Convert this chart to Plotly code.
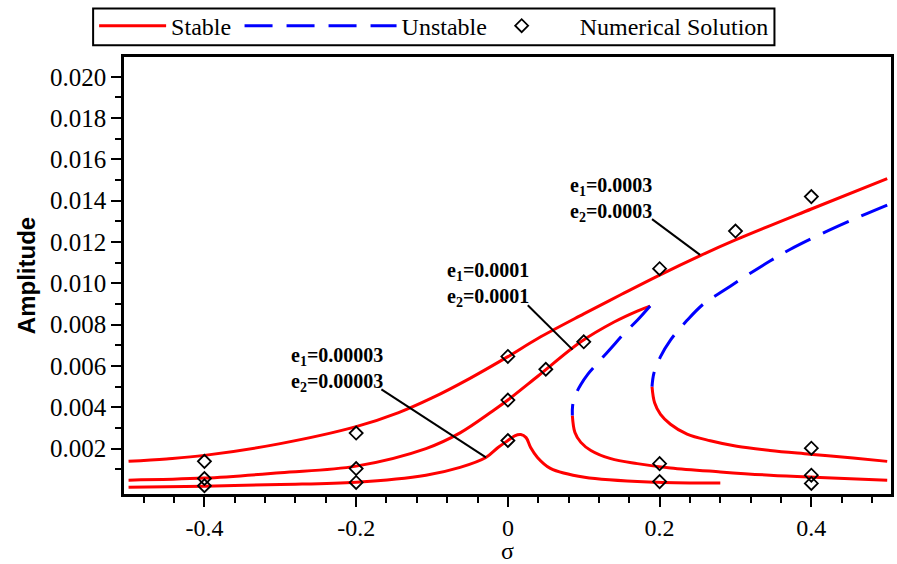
import plotly.graph_objects as go

# ---- frequency-response branches (sigma, amplitude) ----
# e1 = e2 = 0.00003 : single stable branch with a small peak
sig_s1 = [-0.5, -0.4, -0.3, -0.2, -0.108, -0.063, -0.029, -0.013, 0.0, 0.009, 0.017, 0.024, 0.030, 0.039, 0.056, 0.101, 0.197, 0.28]
amp_s1 = [0.00013, 0.00018, 0.00026, 0.00037, 0.00071, 0.00109, 0.00157, 0.00205, 0.00239, 0.00262, 0.00268, 0.00253, 0.00205, 0.00157, 0.00104, 0.00061, 0.00037, 0.00033]

# e1 = e2 = 0.0001
sig_u2 = [-0.5, -0.4, -0.3, -0.2, -0.108, -0.063, -0.02, 0.0, 0.0394, 0.0962, 0.140, 0.1706, 0.1875]
amp_u2 = [0.00047, 0.00057, 0.00083, 0.00115, 0.0020, 0.00276, 0.00382, 0.00435, 0.0055, 0.00717, 0.00813, 0.00866, 0.0089]
sig_d2 = [0.1875, 0.1706, 0.1531, 0.1356, 0.1181, 0.1050, 0.0962, 0.0884, 0.0853, 0.0850]
amp_d2 = [0.0089, 0.00821, 0.00757, 0.00685, 0.00613, 0.00558, 0.00510, 0.00454, 0.00406, 0.00360]
sig_l2 = [0.0850, 0.0884, 0.0962, 0.1094, 0.1356, 0.1706, 0.2143, 0.2800, 0.3456, 0.4112, 0.5]
amp_l2 = [0.00360, 0.00278, 0.00230, 0.00191, 0.00151, 0.00127, 0.00106, 0.00087, 0.00071, 0.00060, 0.00047]

# e1 = e2 = 0.0003
sig_u3 = [-0.5, -0.45, -0.4, -0.3, -0.2, -0.144, -0.1, -0.05, 0.0, 0.0394, 0.1, 0.15, 0.2, 0.253, 0.3, 0.4, 0.5]
amp_u3 = [0.00138, 0.0015, 0.00167, 0.00224, 0.00306, 0.00374, 0.00445, 0.0054, 0.00645, 0.00733, 0.00852, 0.00947, 0.0104, 0.01133, 0.0121, 0.0136, 0.01507]
sig_d3 = [0.5, 0.4593, 0.4112, 0.3718, 0.3455, 0.3106, 0.2844, 0.2581, 0.2362, 0.2143, 0.2012, 0.1925, 0.1900]
amp_d3 = [0.01379, 0.01316, 0.01236, 0.01164, 0.01108, 0.01028, 0.00965, 0.00901, 0.00821, 0.00725, 0.00645, 0.00565, 0.00500]
sig_l3 = [0.1900, 0.1934, 0.2012, 0.2143, 0.2362, 0.2668, 0.3018, 0.3455, 0.3980, 0.4550, 0.5]
amp_l3 = [0.00500, 0.00422, 0.00366, 0.00318, 0.00270, 0.00238, 0.00211, 0.00191, 0.00173, 0.00154, 0.00138]

# ---- numerical solution points ----
sig_num = [-0.4, -0.2, 0.0, 0.2, 0.3, 0.4, 0.4,
           -0.4, -0.2, 0.0, 0.05, 0.1, 0.2, 0.4,
           -0.4, -0.2, 0.0, 0.2, 0.4]
amp_num = [0.00138, 0.00275, 0.00646, 0.01071, 0.01253, 0.0142, 0.00202,
           0.00055, 0.00103, 0.00435, 0.00584, 0.00717, 0.00127, 0.00071,
           0.0002, 0.00036, 0.00239, 0.0004, 0.00031]

# ---- curve labels and their leader lines ----
label_text = ["<b>e<sub>1</sub>=0.00003</b><br><b>e<sub>2</sub>=0.00003</b>",
              "<b>e<sub>1</sub>=0.0001</b><br><b>e<sub>2</sub>=0.0001</b>",
              "<b>e<sub>1</sub>=0.0003</b><br><b>e<sub>2</sub>=0.0003</b>"]
label_x = [-0.2887, -0.0827, 0.0787]
label_y = [0.00583, 0.00995, 0.01406]
leader_x0 = [-0.1667, 0.0262, 0.190]
leader_y0 = [0.00487, 0.00894, 0.01311]
leader_x1 = [-0.0289, 0.0853, 0.2533]
leader_y1 = [0.00157, 0.00679, 0.01138]

x_major = [-0.4, -0.2, 0.0, 0.2, 0.4]
x_labels = ["-0.4", "-0.2", "0", "0.2", "0.4"]
x_minor = [round(-0.48 + 0.04 * i, 2) for i in range(25)]
x_minor = [v for v in x_minor if all(abs(v - m) > 1e-9 for m in x_major)]
y_major = [round(0.002 * i, 3) for i in range(1, 11)]
y_labels = ["%.3f" % v for v in y_major]
y_minor = [round(0.001 + 0.002 * i, 3) for i in range(10)]

RED = "#ff0000"
BLUE = "#0000ff"
SERIF = "Liberation Serif, Times New Roman, serif"

# plot area in pixels, used to place the legend row above the frame
W, H = 897, 564
ML, MR, MT, MB = 124, 3, 57, 65
PW, PH = W - ML - MR, H - MT - MB


def px_to_paper_x(px):
    return (px - ML) / PW


def px_to_paper_y(py):
    return 1 + (MT - py) / PH


fig = go.Figure()

stable = [(sig_s1, amp_s1), (sig_u2, amp_u2), (sig_l2, amp_l2), (sig_u3, amp_u3), (sig_l3, amp_l3)]
for i, (xs, ys) in enumerate(stable):
    fig.add_trace(go.Scatter(
        x=xs, y=ys, mode="lines", name="Stable", legendgroup="stable", legend="legend",
        showlegend=(i == 0), line=dict(color=RED, width=3, shape="spline", smoothing=1.0)))

unstable = [(sig_d2, amp_d2), (sig_d3, amp_d3)]
for i, (xs, ys) in enumerate(unstable):
    fig.add_trace(go.Scatter(
        x=xs, y=ys, mode="lines", name="Unstable", legendgroup="unstable", legend="legend2",
        showlegend=(i == 0),
        line=dict(color=BLUE, width=3, dash="28px,14px", shape="spline", smoothing=1.0)))

fig.add_trace(go.Scatter(
    x=sig_num, y=amp_num, mode="markers", name="Numerical Solution", legend="legend3",
    marker=dict(symbol="diamond-open", size=10, color="black", line=dict(width=1.8, color="black"))))

for t, x, y in zip(label_text, label_x, label_y):
    fig.add_annotation(x=x, y=y, xref="x", yref="y", text=t, showarrow=False,
                       xanchor="left", yanchor="middle", align="left",
                       font=dict(family=SERIF, size=20, color="black"))

for x0, y0, x1, y1 in zip(leader_x0, leader_y0, leader_x1, leader_y1):
    fig.add_shape(type="line", xref="x", yref="y", x0=x0, y0=y0, x1=x1, y1=y1,
                  line=dict(color="black", width=2))

# frame around the legend row
fig.add_shape(type="rect", xref="paper", yref="paper",
              x0=px_to_paper_x(93), x1=px_to_paper_x(777),
              y0=px_to_paper_y(45), y1=px_to_paper_y(8),
              line=dict(color="black", width=2), fillcolor="rgba(0,0,0,0)")

legend_common = dict(orientation="h", xanchor="left", yanchor="top", y=px_to_paper_y(3),
                     borderwidth=0, bgcolor="rgba(0,0,0,0)",
                     font=dict(family=SERIF, size=24, color="black"))

fig.update_layout(
    width=W, height=H,
    margin=dict(l=ML, r=MR, t=MT, b=MB),
    paper_bgcolor="white", plot_bgcolor="white",
    font=dict(family=SERIF, size=24, color="black"),
    legend=dict(x=px_to_paper_x(94), itemwidth=67, **legend_common),
    legend2=dict(x=px_to_paper_x(240), itemwidth=152, **legend_common),
    legend3=dict(x=px_to_paper_x(465), itemwidth=106, **legend_common),
)

fig.update_xaxes(
    range=[-0.506, 0.505], showgrid=False, zeroline=False,
    showline=True, mirror=True, linecolor="black", linewidth=2.5,
    tickmode="array", tickvals=x_major, ticktext=x_labels,
    ticks="outside", ticklen=10, tickwidth=2, tickcolor="black",
    tickfont=dict(family=SERIF, size=24, color="black"),
    minor=dict(tickmode="array", tickvals=x_minor, ticks="outside", ticklen=6, tickwidth=2, tickcolor="black"),
    title=dict(text="σ", font=dict(family=SERIF, size=24, color="black"), standoff=4),
)
fig.update_yaxes(
    range=[-0.0002, 0.02096], showgrid=False, zeroline=False,
    showline=True, mirror=True, linecolor="black", linewidth=2.5,
    tickmode="array", tickvals=y_major, ticktext=y_labels,
    ticks="outside", ticklen=10, tickwidth=2, tickcolor="black",
    tickfont=dict(family=SERIF, size=25, color="black"),
    minor=dict(tickmode="array", tickvals=y_minor, ticks="outside", ticklen=6, tickwidth=2, tickcolor="black"),
    title=dict(text="<b>Amplitude</b>", font=dict(family="Liberation Sans, Arial, sans-serif", size=24, color="black"), standoff=8),
)

fig.write_html("out.html")
